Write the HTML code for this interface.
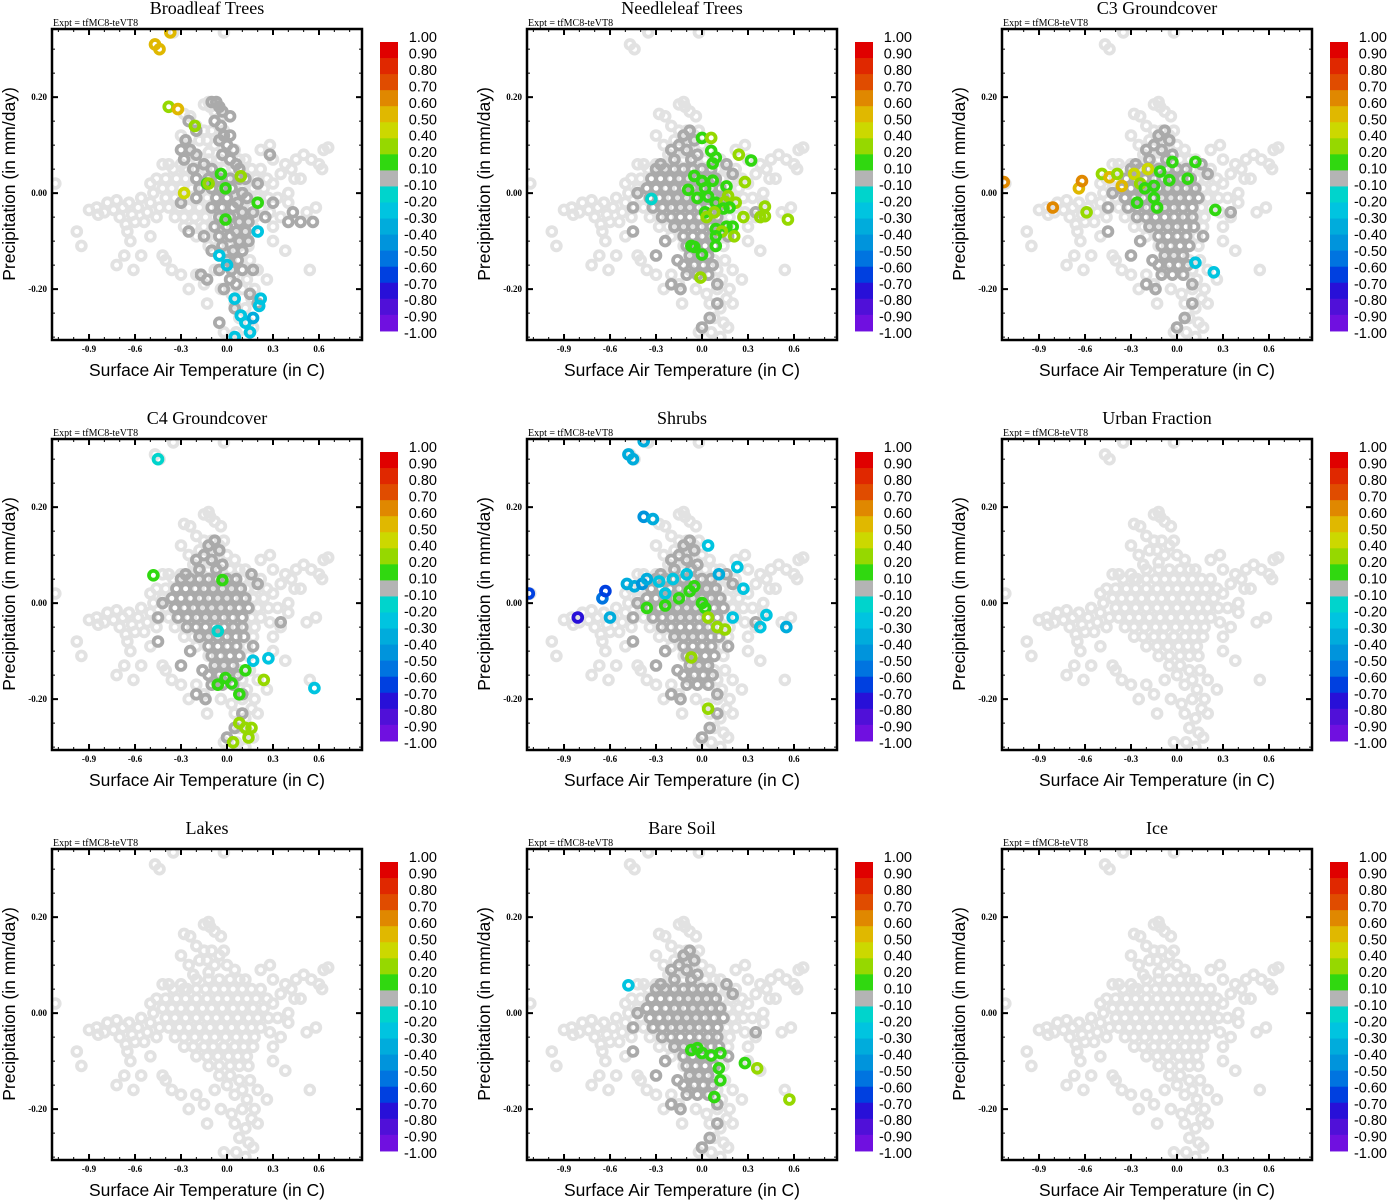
<!DOCTYPE html>
<html><head><meta charset="utf-8"><style>
html,body{margin:0;padding:0;background:#fff;}
svg{display:block;}
</style></head><body>
<svg id="fig" width="1388" height="1200" viewBox="0 0 1388 1200" xmlns="http://www.w3.org/2000/svg"></svg>
<script>
// ---- data ----
const panelTitles = ["Broadleaf Trees","Needleleaf Trees","C3 Groundcover","C4 Groundcover","Shrubs","Urban Fraction","Lakes","Bare Soil","Ice"];
const xTicks = [-0.9,-0.6,-0.3,0.0,0.3,0.6];
const xTickLabels = ["-0.9","-0.6","-0.3","0.0","0.3","0.6"];
const yTicks = [0.2,0.0,-0.2];
const yTickLabels = ["0.20","0.00","-0.20"];
const cbLabels = ["1.00","0.90","0.80","0.70","0.60","0.50","0.40","0.20","0.10","-0.10","-0.20","-0.30","-0.40","-0.50","-0.60","-0.70","-0.80","-0.90","-1.00"];
const cbBounds = [1.0,0.9,0.8,0.7,0.6,0.5,0.4,0.2,0.1,-0.1,-0.2,-0.3,-0.4,-0.5,-0.6,-0.7,-0.8,-0.9,-1.0];
const cbColors = ["#e00000","#e02800","#e04c00","#e08800","#e0b800","#ccd800","#96d800","#30d810","#b4b4b4","#00d4cc","#00c4e0","#00acdc","#0094dc","#0074e0","#0040e0","#2810d8","#5010d8","#7010e0"];

const lightCloud = [
[-0.9,-0.035],[-0.85,-0.03],[-0.8,-0.04],[-0.78,-0.02],[-0.74,-0.035],[-0.7,-0.05],[-0.68,-0.03],[-0.64,-0.02],[-0.62,-0.045],[-0.58,-0.03],[-0.56,-0.01],[-0.52,-0.04],[-0.5,-0.02],[-0.48,0.0],[-0.46,-0.05],[-0.44,-0.03],[-0.6,-0.06],[-0.72,-0.015],[-0.84,-0.045],[-0.66,-0.065],[-0.54,-0.06],
[-0.98,-0.08],[-0.95,-0.11],[-0.65,-0.08],[-0.67,-0.13],[-0.72,-0.15],[-0.61,-0.16],[-0.63,-0.1],[-0.56,-0.13],[-0.42,-0.13],[-0.36,-0.16],[-0.4,-0.14],[-0.5,-0.09],[-0.46,0.03],[-0.42,0.06],[-0.38,0.06],[-0.5,0.02],[-1.12,0.02],
[-0.47,0.31],[-0.44,0.30],[-0.35,0.335],[-0.02,0.335],[-0.15,0.185],[-0.12,0.19],[-0.11,0.18],[-0.08,0.17],[-0.28,0.165],[-0.24,0.16],[-0.3,0.12],[-0.2,0.14],[-0.15,0.13],[-0.1,0.13],[-0.04,0.16],[-0.13,0.11],[-0.05,0.12],[-0.02,0.13],[-0.25,0.10],[-0.18,0.11],[-0.08,0.10],[-0.22,0.08],[-0.12,0.085],[0.0,0.10],[0.05,0.09],[-0.3,0.06],[-0.26,0.05],
[-0.2,0.07],[-0.12,0.07],[-0.05,0.07],[0.02,0.07],[0.08,0.07],[0.12,0.07],
[-0.35,0.05],[-0.28,0.05],[-0.2,0.05],[-0.14,0.05],[-0.08,0.05],[-0.02,0.05],[0.04,0.05],[0.1,0.05],[0.16,0.05],[0.22,0.05],
[-0.4,0.03],[-0.33,0.03],[-0.27,0.03],[-0.2,0.03],[-0.13,0.03],[-0.06,0.03],[0.0,0.03],[0.07,0.03],[0.13,0.03],[0.19,0.03],[0.26,0.03],
[-0.42,0.01],[-0.36,0.01],[-0.3,0.01],[-0.23,0.01],[-0.16,0.01],[-0.1,0.01],[-0.03,0.01],[0.04,0.01],[0.1,0.01],[0.17,0.01],[0.24,0.01],
[-0.4,-0.01],[-0.34,-0.01],[-0.27,-0.01],[-0.2,-0.01],[-0.13,-0.01],[-0.07,-0.01],[0.0,-0.01],[0.07,-0.01],[0.14,-0.01],[0.2,-0.01],[0.27,-0.01],
[-0.38,-0.03],[-0.31,-0.03],[-0.25,-0.03],[-0.18,-0.03],[-0.11,-0.03],[-0.04,-0.03],[0.03,-0.03],[0.1,-0.03],[0.16,-0.03],[0.22,-0.03],
[-0.34,-0.05],[-0.28,-0.05],[-0.21,-0.05],[-0.14,-0.05],[-0.08,-0.05],[-0.01,-0.05],[0.06,-0.05],[0.12,-0.05],[0.18,-0.05],
[-0.28,-0.07],[-0.22,-0.07],[-0.15,-0.07],[-0.09,-0.07],[-0.02,-0.07],[0.05,-0.07],[0.11,-0.07],[0.17,-0.07],
[-0.2,-0.09],[-0.13,-0.09],[-0.06,-0.09],[0.01,-0.09],[0.07,-0.09],[0.13,-0.09],
[-0.12,-0.11],[-0.05,-0.11],[0.02,-0.11],[0.08,-0.11],[0.14,-0.11],
[0.3,0.02],[0.35,0.04],[0.38,0.06],[0.42,0.05],[0.45,0.07],[0.5,0.08],[0.55,0.07],[0.6,0.06],[0.63,0.09],[0.66,0.095],[0.62,0.05],[0.3,0.07],[0.33,-0.01],[0.4,-0.02],[0.44,0.03],[0.28,-0.04],[0.35,-0.05],[0.4,0.0],[0.48,0.03],[0.58,-0.03],[0.52,-0.04],[0.38,-0.12],[0.54,-0.16],[0.3,-0.1],[0.22,0.09],[0.28,0.1],[0.3,-0.07],
[-0.05,-0.13],[0.02,-0.13],[0.08,-0.14],[0.15,-0.14],[0.0,-0.15],[0.1,-0.16],[-0.08,-0.16],[0.05,-0.17],[0.13,-0.18],[0.2,-0.16],[-0.2,-0.17],[-0.15,-0.19],[-0.04,-0.2],[0.03,-0.21],[0.1,-0.2],[0.18,-0.2],[0.05,-0.23],[0.12,-0.24],[0.16,-0.22],[0.2,-0.23],[0.08,-0.26],[0.14,-0.27],[0.06,-0.29],[0.12,-0.3],[0.17,-0.28],[-0.02,-0.29],[-0.3,-0.17],[-0.25,-0.2],[0.26,-0.18],[-0.13,-0.23]
];

const darkGeneral = [
[-0.12,0.12],[-0.08,0.13],[-0.05,0.11],[-0.15,0.1],[-0.2,0.09],[-0.1,0.09],[-0.03,0.08],[-0.18,0.07],[-0.27,0.06],[-0.07,0.07],
[-0.3,0.05],[-0.24,0.05],[-0.18,0.05],[-0.12,0.05],[-0.06,0.05],[0.0,0.05],[0.06,0.05],
[-0.33,0.03],[-0.27,0.03],[-0.21,0.03],[-0.15,0.03],[-0.09,0.03],[-0.03,0.03],[0.03,0.03],[0.09,0.03],
[-0.36,0.01],[-0.3,0.01],[-0.24,0.01],[-0.18,0.01],[-0.12,0.01],[-0.06,0.01],[0.0,0.01],[0.06,0.01],[0.12,0.01],
[-0.34,-0.01],[-0.28,-0.01],[-0.22,-0.01],[-0.16,-0.01],[-0.1,-0.01],[-0.04,-0.01],[0.02,-0.01],[0.08,-0.01],[0.14,-0.01],
[-0.32,-0.03],[-0.26,-0.03],[-0.2,-0.03],[-0.14,-0.03],[-0.08,-0.03],[-0.02,-0.03],[0.04,-0.03],[0.1,-0.03],
[-0.26,-0.05],[-0.2,-0.05],[-0.14,-0.05],[-0.08,-0.05],[-0.02,-0.05],[0.04,-0.05],[0.1,-0.05],
[-0.18,-0.07],[-0.12,-0.07],[-0.06,-0.07],[0.0,-0.07],[0.06,-0.07],[0.11,-0.07],
[-0.12,-0.09],[-0.06,-0.09],[0.0,-0.09],[0.06,-0.09],
[-0.1,-0.11],[-0.04,-0.11],[0.02,-0.11],[0.08,-0.11],
[-0.08,-0.13],[-0.02,-0.13],[0.04,-0.13],
[-0.12,-0.15],[-0.05,-0.15],[0.01,-0.15],[0.07,-0.15],
[-0.1,-0.17],[-0.03,-0.17],[0.04,-0.17],
[-0.45,-0.03],[-0.42,0.0],[-0.45,-0.08],[-0.24,-0.1],[-0.3,-0.13],[-0.16,-0.14],[-0.2,-0.19],[-0.14,-0.2],[0.1,-0.19],[0.1,-0.23],[0.0,-0.28],[0.05,-0.26],[0.35,-0.04],[0.2,0.04],[0.16,0.06],[0.17,-0.09]
];

const darkBroadleaf = [
[-0.1,0.19],[-0.07,0.19],[-0.05,0.18],[-0.03,0.17],[0.02,0.16],[-0.25,0.15],[-0.2,0.13],[-0.08,0.15],[-0.04,0.14],[-0.27,0.11],[-0.02,0.12],[0.02,0.12],[-0.05,0.11],[0.0,0.1],[0.04,0.09],[-0.3,0.09],[-0.24,0.09],[-0.2,0.08],[-0.28,0.07],[-0.03,0.08],[0.02,0.07],[0.06,0.06],[-0.15,0.06],[-0.22,0.05],[-0.1,0.05],[0.08,0.05],[0.28,0.08],[-0.2,0.03],[-0.12,0.03],[-0.05,0.03],[0.02,0.03],[0.08,0.03],[0.12,0.03],[0.2,0.02],[-0.18,0.01],[-0.1,0.01],[-0.04,0.01],[0.03,0.01],[0.1,0.0],[-0.3,-0.02],[-0.2,-0.01],[-0.07,-0.01],[0.0,-0.01],[0.07,-0.02],[0.13,-0.01],[-0.1,-0.03],[-0.03,-0.03],[0.04,-0.03],[0.1,-0.04],[0.17,-0.04],[0.3,-0.02],[0.43,-0.04],[0.48,-0.06],[0.56,-0.06],[0.4,-0.06],[0.25,-0.05],[-0.05,-0.05],[0.02,-0.05],[0.08,-0.06],[0.14,-0.06],[-0.08,-0.07],[0.0,-0.07],[0.06,-0.08],[0.12,-0.08],[-0.25,-0.08],[-0.15,-0.09],[-0.05,-0.09],[0.02,-0.09],[0.08,-0.1],[0.14,-0.1],[-0.03,-0.11],[0.04,-0.12],[-0.1,-0.12],[0.1,-0.12],[0.0,-0.14],[0.07,-0.14],[-0.05,-0.16],[0.03,-0.16],[0.1,-0.16],[0.17,-0.16],[-0.17,-0.17],[-0.13,-0.18],[0.02,-0.18],[0.06,-0.19],[-0.02,-0.2],[0.15,-0.21],[0.05,-0.24],[-0.05,-0.27],[0.2,-0.23]
];

const coloredBroadleaf = [[-0.37,0.335,0.5],[-0.47,0.31,0.5],[-0.44,0.30,0.5],[-0.38,0.18,0.2],[-0.32,0.175,0.5],[-0.21,0.14,0.2],[-0.04,0.04,0.1],[-0.13,0.02,0.1],[-0.12,0.02,0.2],[0.09,0.035,0.2],[-0.01,0.01,0.1],[-0.28,0.0,0.4],[0.2,-0.02,0.1],[-0.01,-0.055,0.1],[0.2,-0.08,-0.3],[-0.05,-0.13,-0.3],[0.0,-0.15,-0.3],[0.05,-0.22,-0.3],[0.22,-0.22,-0.3],[0.21,-0.235,-0.3],[0.09,-0.255,-0.3],[0.12,-0.27,-0.3],[0.15,-0.29,-0.3],[0.05,-0.3,-0.3],[0.17,-0.26,-0.4]];
const coloredNeedleleaf = [[0.0,0.115,0.1],[0.06,0.115,0.2],[0.06,0.088,0.1],[0.09,0.074,0.1],[0.07,0.062,0.1],[0.24,0.08,0.2],[0.32,0.068,0.1],[-0.05,0.036,0.1],[0.0,0.025,0.1],[0.07,0.026,0.1],[0.16,0.014,0.1],[0.28,0.023,0.2],[-0.09,0.007,0.1],[0.02,0.01,0.1],[-0.03,-0.01,0.1],[0.04,-0.007,0.1],[0.09,-0.02,0.1],[0.17,-0.006,0.2],[0.15,-0.018,0.2],[0.22,-0.02,0.2],[0.14,-0.032,0.1],[0.18,-0.03,0.1],[0.02,-0.04,0.1],[0.08,-0.04,0.2],[0.03,-0.05,0.2],[0.27,-0.05,0.2],[0.41,-0.028,0.2],[0.38,-0.05,0.2],[0.41,-0.048,0.2],[0.56,-0.055,0.2],[0.09,-0.075,0.1],[0.16,-0.07,0.1],[0.2,-0.07,0.1],[0.13,-0.08,0.2],[0.09,-0.09,0.1],[0.21,-0.09,0.2],[0.09,-0.11,0.1],[-0.07,-0.11,0.1],[-0.05,-0.112,0.1],[0.0,-0.128,0.1],[-0.01,-0.176,0.2],[-0.33,-0.012,-0.2]];
const coloredC3 = [[-1.13,0.023,0.6],[-0.81,-0.03,0.6],[-0.64,0.01,0.5],[-0.62,0.025,0.6],[-0.59,-0.04,0.2],[-0.49,0.04,0.2],[-0.44,0.033,0.5],[-0.39,0.04,0.2],[-0.36,0.015,0.5],[-0.28,0.04,0.4],[-0.24,0.02,0.2],[-0.19,0.05,0.4],[-0.11,0.045,0.1],[-0.21,0.01,0.1],[-0.15,0.015,0.1],[-0.05,0.027,0.1],[-0.03,0.065,0.1],[0.07,0.03,0.1],[0.12,0.065,0.1],[-0.15,-0.01,0.1],[-0.26,-0.02,0.1],[-0.13,-0.03,0.1],[0.25,-0.035,0.1],[0.12,-0.145,-0.3],[0.24,-0.165,-0.3]];
const coloredC4 = [[-0.45,0.3,-0.2],[-0.48,0.058,0.1],[-0.03,0.048,0.1],[-0.06,-0.058,-0.2],[0.27,-0.115,-0.3],[0.17,-0.12,-0.3],[0.57,-0.177,-0.3],[-0.01,-0.156,0.1],[0.03,-0.167,0.1],[0.12,-0.14,0.1],[0.24,-0.16,0.2],[-0.06,-0.17,0.1],[0.08,-0.19,0.1],[0.08,-0.25,0.2],[0.12,-0.26,0.2],[0.16,-0.26,0.2],[0.04,-0.29,0.2],[0.14,-0.28,0.2]];
const coloredShrubs = [[-0.38,0.3375,-0.4],[-0.48,0.31,-0.4],[-0.45,0.30,-0.4],[-0.38,0.18,-0.5],[-0.32,0.175,-0.4],[-1.13,0.02,-0.7],[-0.81,-0.03,-0.8],[-0.65,0.01,-0.6],[-0.63,0.025,-0.7],[-0.6,-0.03,-0.4],[-0.49,0.04,-0.4],[-0.44,0.035,-0.4],[-0.39,0.04,-0.5],[-0.36,0.05,-0.4],[-0.28,0.045,-0.3],[-0.24,0.02,-0.3],[-0.19,0.05,-0.3],[-0.36,-0.01,0.1],[-0.24,-0.005,0.1],[-0.15,0.01,0.1],[-0.08,0.025,0.1],[-0.05,0.035,0.1],[-0.1,0.06,-0.3],[0.04,0.12,-0.3],[0.11,0.06,-0.4],[0.23,0.075,-0.3],[0.0,0.0,0.1],[0.02,-0.01,0.1],[0.04,-0.03,0.2],[0.1,-0.05,0.2],[0.15,-0.055,0.2],[0.2,-0.03,-0.3],[0.27,0.03,-0.3],[0.42,-0.025,-0.3],[0.38,-0.05,-0.3],[0.55,-0.05,-0.4],[-0.07,-0.113,0.2],[0.04,-0.22,0.2]];
const coloredBareSoil = [[-0.48,0.058,-0.3],[-0.07,-0.077,0.1],[-0.03,-0.073,0.1],[0.0,-0.083,0.1],[0.06,-0.088,0.1],[0.12,-0.083,0.1],[0.28,-0.104,0.1],[0.36,-0.115,0.2],[0.11,-0.115,0.1],[0.12,-0.14,0.1],[0.08,-0.175,0.1],[0.57,-0.18,0.2]];

const panelDark = [darkBroadleaf, darkGeneral, darkGeneral, darkGeneral, darkGeneral, [], [], darkGeneral, []];
const panelColored = [coloredBroadleaf, coloredNeedleleaf, coloredC3, coloredC4, coloredShrubs, [], [], coloredBareSoil, []];

// ---- drawing ----
const NS = "http://www.w3.org/2000/svg";
const svg = document.getElementById("fig");
function mk(tag, attrs, parent){ const e=document.createElementNS(NS,tag); for(const k in attrs) e.setAttribute(k,attrs[k]); (parent||svg).appendChild(e); return e; }
const X0=-1.1415, X1=0.8805, Y0=-0.306, Y1=0.342;
const PL=52, PR=362, PT=29, PB=340;
function colorFor(v){ for(let i=0;i<cbColors.length;i++){ if(v<=cbBounds[i] && v>=cbBounds[i+1]) return cbColors[i]; } return cbColors[8]; }

panelTitles.forEach((title, p) => {
  const ox = (p%3)*475, oy = Math.floor(p/3)*410;
  const g = mk("g",{transform:`translate(${ox},${oy})`});
  
  
  const sx = v => PL + (v - X0)/(X1 - X0)*(PR-PL);
  const sy = v => PB - (v - Y0)/(Y1 - Y0)*(PB-PT);

  const t = mk("text",{x:207,y:14,"text-anchor":"middle","font-family":"Liberation Serif, serif","font-size":"18"},g);
  t.textContent = title;
  
  
  const ex = mk("text",{x:53,y:26,"font-family":"Liberation Serif, serif","font-size":"10"},g);
  ex.textContent = "Expt = tfMC8-teVT8";
  
  

  const clip = mk("clipPath",{id:"c"+p},g);
  mk("rect",{x:PL,y:PT,width:PR-PL,height:PB-PT},clip);
  const pts = mk("g",{"clip-path":`url(#c${p})`},g);
  
  
  function ring(x,y,col,name){
    const c = mk("circle",{cx:sx(x).toFixed(1),cy:sy(y).toFixed(1),r:4.4,fill:"none",stroke:col,"stroke-width":3.8},pts);
    
    
  }
  lightCloud.forEach(d => ring(d[0],d[1],"#e2e2e2","point-light"));
  panelDark[p].forEach(d => ring(d[0],d[1],"#aaaaaa","point-dark"));
  panelColored[p].forEach(d => ring(d[0],d[1],colorFor(d[2]),"point-colored"));

  const tk = mk("g",{stroke:"#000"},g);
  
  
  for(let i=-11;i<=8;i++){ const v=i/10; const X=sx(v); const major = (i%3===0);
    const L = major?6:3, w = major?2:1;
    mk("line",{x1:X,y1:PB,x2:X,y2:PB-L,"stroke-width":w},tk);
    mk("line",{x1:X,y1:PT,x2:X,y2:PT+L,"stroke-width":w},tk); }
  for(let i=-6;i<=6;i++){ const v=i*0.05; const Y=sy(v); const major=(i%4===0);
    const L = major?6:3, w = major?2:1;
    mk("line",{x1:PL,y1:Y,x2:PL+L,y2:Y,"stroke-width":w},tk);
    mk("line",{x1:PR,y1:Y,x2:PR-L,y2:Y,"stroke-width":w},tk); }
  const fr = mk("rect",{x:PL,y:PT,width:PR-PL,height:PB-PT,fill:"none",stroke:"#000","stroke-width":2.5},g);
  
  

  xTicks.forEach((v,i)=>{ const l = mk("text",{x:sx(v),y:352,"text-anchor":"middle","font-family":"Liberation Serif, serif","font-size":"9","font-weight":"bold"},g);
    l.textContent = xTickLabels[i];
    
     });
  yTicks.forEach((v,i)=>{ const l = mk("text",{x:47,y:sy(v)+3,"text-anchor":"end","font-family":"Liberation Serif, serif","font-size":"9","font-weight":"bold"},g);
    l.textContent = yTickLabels[i];
    
     });

  const xt = mk("text",{x:207,y:376,"text-anchor":"middle","font-family":"Liberation Sans, sans-serif","font-size":"17.5"},g);
  xt.textContent = "Surface Air Temperature (in C)";
  
  
  const yt = mk("text",{x:0,y:0,"text-anchor":"middle","font-family":"Liberation Sans, sans-serif","font-size":"17.5",transform:"translate(15,184) rotate(-90)"},g);
  yt.textContent = "Precipitation (in mm/day)";
  
  

  const cb = mk("g",{},g);
  
  
  cbColors.forEach((c,i)=>{ const r = mk("rect",{x:380,y:(42+i*16.05).toFixed(2),width:18,height:16.6,fill:c},cb);
    
     });
  cbLabels.forEach((s,i)=>{ const l = mk("text",{x:437,y:(37+i*16.45+5).toFixed(1),"text-anchor":"end","font-family":"Liberation Sans, sans-serif","font-size":"14.5"},cb);
    l.textContent = s;
    
     });
});
</script>
</body></html>
